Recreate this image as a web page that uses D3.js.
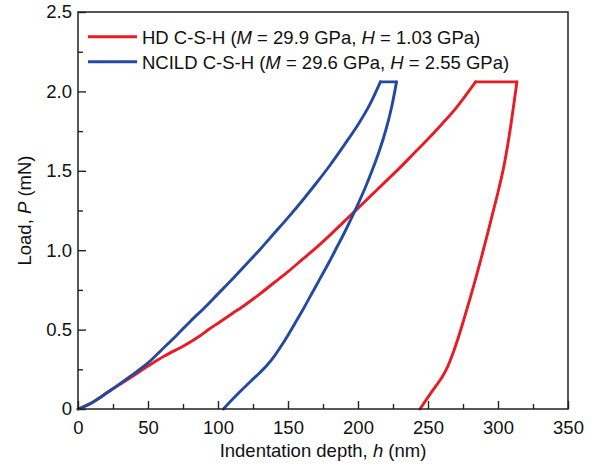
<!DOCTYPE html>
<html>
<head>
<meta charset="utf-8">
<script src="https://cdn.jsdelivr.net/npm/d3@7"></script>
<style>
  body { margin: 0; background: #fff; }
  svg { display: block; font-family: Arial, "Liberation Sans", sans-serif; }
</style>
</head>
<body>
<svg id="chart"></svg>
<script>
// Load-depth curves: [h (nm), P (mN)]
const hdLoading = [
  [0, 0], [10, 0.04], [22, 0.11], [38, 0.2], [50, 0.27], [62, 0.335], [76, 0.4],
  [87, 0.46], [94, 0.505], [100, 0.54], [110, 0.6], [120, 0.66], [130, 0.725],
  [140, 0.795], [150, 0.865], [160, 0.94], [170, 1.015], [180, 1.095],
  [190, 1.18], [200, 1.265], [210, 1.35], [220, 1.435], [230, 1.52],
  [240, 1.61], [250, 1.70], [260, 1.795], [270, 1.895], [284, 2.06]
];
const hdUnloading = [
  [313.5, 2.06], [311, 1.9], [308, 1.72], [304, 1.52], [300, 1.365],
  [296, 1.225], [292, 1.085], [288, 0.95], [284, 0.82], [280, 0.695],
  [276, 0.575], [272, 0.46], [268, 0.355], [264, 0.265], [260, 0.2],
  [252, 0.1], [244.3, 0]
];
const ncildLoading = [
  [0, 0], [10, 0.04], [22, 0.11], [38, 0.21], [50, 0.29], [60, 0.375],
  [70, 0.46], [80, 0.55], [90, 0.635], [100, 0.725], [110, 0.815], [120, 0.91],
  [130, 1.005], [140, 1.105], [150, 1.205], [160, 1.31], [170, 1.42],
  [180, 1.535], [190, 1.66], [200, 1.79], [208, 1.91], [216, 2.06]
];
const ncildUnloading = [
  [227.5, 2.06], [224, 1.9], [220, 1.76], [215, 1.62], [210, 1.5], [205, 1.39],
  [200, 1.29], [195, 1.195], [190, 1.105], [185, 1.02], [180, 0.935],
  [175, 0.855], [170, 0.775], [165, 0.695], [160, 0.615], [155, 0.54],
  [150, 0.465], [145, 0.395], [140, 0.33], [135, 0.275], [130, 0.23],
  [123, 0.172], [113, 0.085], [103.8, 0]
];

const xTicks = [0, 50, 100, 150, 200, 250, 300, 350];
const yTicks = [0, 0.5, 1.0, 1.5, 2.0, 2.5];
const xMinor = [25, 75, 125, 175, 225, 275, 325];
const yMinor = [0.25, 0.75, 1.25, 1.75, 2.25];

const seriesNames = ["HD C-S-H", "NCILD C-S-H"];
const seriesM = ["29.9", "29.6"];
const seriesH = ["1.03", "2.55"];

const red = "#e81c24";
const blue = "#2349a0";

// Layout
const W = 594, H = 464;
const margin = { top: 12, right: 26, bottom: 55, left: 78 };
const width = W - margin.left - margin.right;
const height = H - margin.top - margin.bottom;

const root = d3.select("#chart").attr("width", W).attr("height", H);
const svg = root.append("g").attr("transform", `translate(${margin.left},${margin.top})`);

const x = d3.scaleLinear().domain([0, 350]).range([0, width]);
const y = d3.scaleLinear().domain([0, 2.5]).range([height, 0]);

const smooth = d3.line().x(d => x(d[0])).y(d => y(d[1])).curve(d3.curveCatmullRom.alpha(0.5));
const straight = d3.line().x(d => x(d[0])).y(d => y(d[1]));

// Each curve: smooth loading, straight hold at peak load, smooth unloading
const curves = [
  { color: red, load: hdLoading, unload: hdUnloading },
  { color: blue, load: ncildLoading, unload: ncildUnloading }
];

curves.forEach(c => {
  const hold = [c.load[c.load.length - 1], c.unload[0]];
  [smooth(c.load), straight(hold), smooth(c.unload)].forEach(d => {
    svg.append("path")
      .attr("d", d)
      .attr("fill", "none")
      .attr("stroke", c.color)
      .attr("stroke-width", 2.9)
      .attr("stroke-linejoin", "round")
      .attr("stroke-linecap", "round");
  });
});

// Axes, ticks pointing inward
const axisColor = "#222";
const fontSize = "18.5px";

const xAxis = svg.append("g")
  .attr("transform", `translate(0,${height})`)
  .call(d3.axisBottom(x).tickValues(xTicks).tickSizeInner(-8).tickSizeOuter(0).tickPadding(12)
    .tickFormat(d3.format("d")));

const xAxisMinor = svg.append("g")
  .attr("transform", `translate(0,${height})`)
  .call(d3.axisBottom(x).tickValues(xMinor).tickSizeInner(-5).tickSizeOuter(0).tickFormat(""));

const yAxis = svg.append("g")
  .call(d3.axisLeft(y).tickValues(yTicks).tickSizeInner(-8).tickSizeOuter(0).tickPadding(6)
    .tickFormat(d => d === 0 ? "0" : d3.format(".1f")(d)));

const yAxisMinor = svg.append("g")
  .call(d3.axisLeft(y).tickValues(yMinor).tickSizeInner(-5).tickSizeOuter(0).tickFormat(""));

[xAxis, xAxisMinor, yAxis, yAxisMinor].forEach(g => {
  g.select(".domain").remove();
  g.selectAll("line").attr("stroke", axisColor).attr("stroke-width", 1.4);
  g.selectAll("text").attr("fill", "#111").style("font-size", fontSize).style("font-family", null);
});

// Frame
svg.append("rect")
  .attr("width", width)
  .attr("height", height)
  .attr("fill", "none")
  .attr("stroke", axisColor)
  .attr("stroke-width", 1.5);

// Axis titles
const xTitle = root.append("text")
  .attr("x", margin.left + width / 2)
  .attr("y", 457)
  .attr("text-anchor", "middle")
  .attr("fill", "#111")
  .style("font-size", fontSize);
xTitle.append("tspan").text("Indentation depth, ");
xTitle.append("tspan").style("font-style", "italic").text("h");
xTitle.append("tspan").text(" (nm)");

const yTitle = root.append("text")
  .attr("transform", `translate(31,${margin.top + height / 2}) rotate(-90)`)
  .attr("text-anchor", "middle")
  .attr("fill", "#111")
  .style("font-size", fontSize);
yTitle.append("tspan").text("Load, ");
yTitle.append("tspan").style("font-style", "italic").text("P");
yTitle.append("tspan").text(" (mN)");

// Legend
const legend = svg.append("g").attr("transform", "translate(10,24.7)");
const colors = [red, blue];
seriesNames.forEach((name, i) => {
  const row = legend.append("g").attr("transform", `translate(0,${i * 25})`);
  row.append("line")
    .attr("x1", 0).attr("x2", 49)
    .attr("stroke", colors[i])
    .attr("stroke-width", 3);
  const t = row.append("text")
    .attr("x", 54)
    .attr("y", 7.6)
    .attr("fill", "#111")
    .style("font-size", fontSize);
  t.append("tspan").text(name + " (");
  t.append("tspan").style("font-style", "italic").text("M");
  t.append("tspan").text(` = ${seriesM[i]} GPa, `);
  t.append("tspan").style("font-style", "italic").text("H");
  t.append("tspan").text(` = ${seriesH[i]} GPa)`);
});
</script>
</body>
</html>
